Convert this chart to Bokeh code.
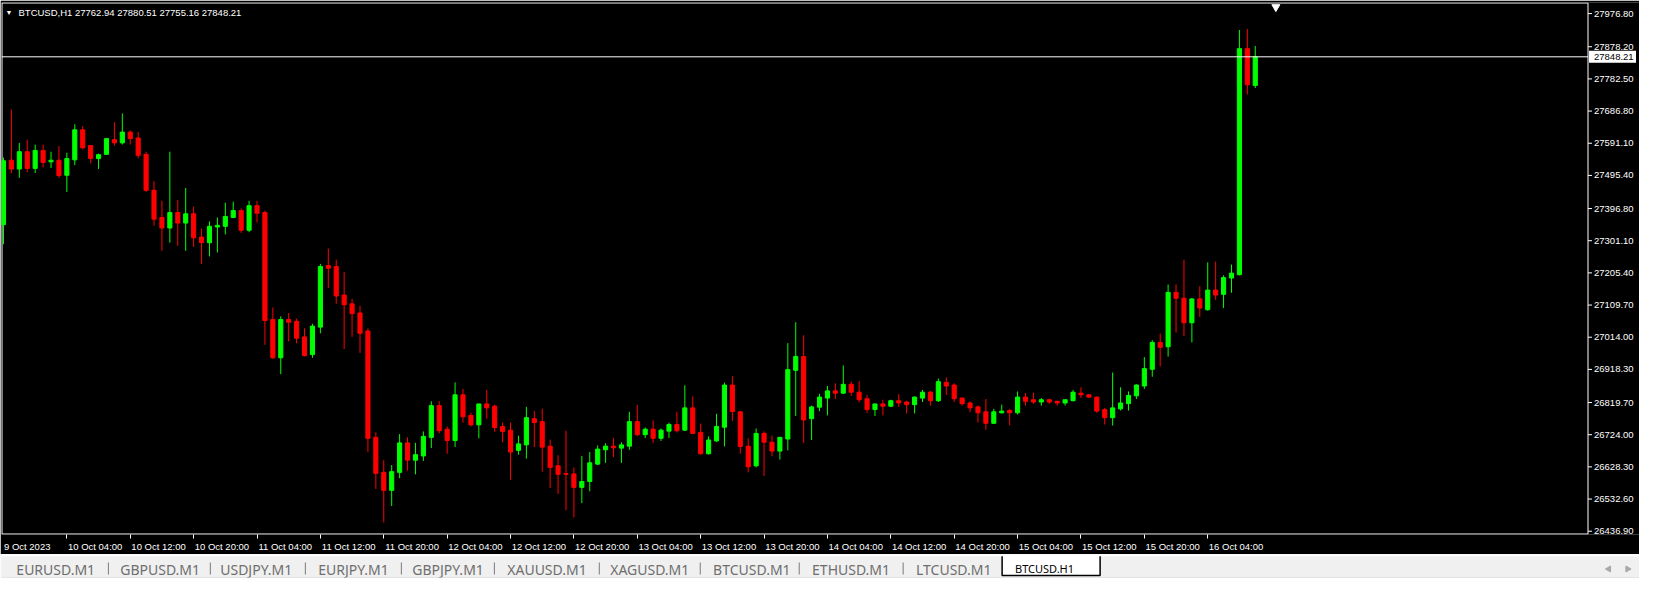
from bokeh.plotting import figure
from bokeh.models import (Range1d, FixedTicker, LinearAxis, Span, Label, ColumnDataSource)
from bokeh.layouts import column
from bokeh.core.properties import value
from bokeh.embed import file_html
from bokeh.resources import INLINE

# ---------------- data (BTCUSD H1, 9 Oct 20:00 .. 16 Oct 10:00) ----------------
symbol = "BTCUSD,H1"
opens = [27349.0, 27540.5, 27514.2, 27565.9, 27516.3, 27569.7, 27535.8, 27540.5, 27495.8, 27541.7,
         27631.0, 27584.3, 27545.5, 27558.0, 27601.8, 27592.2, 27624.3, 27606.8, 27558.0, 27451.2,
         27370.3, 27339.0, 27384.9, 27353.6, 27381.1, 27311.9, 27295.2, 27342.0, 27344.0, 27370.3,
         27390.7, 27332.3, 27405.3, 27384.9, 27066.6, 26952.7, 27066.6, 27061.6, 27014.9, 26962.4,
         27044.1, 27227.2, 27224.3, 27139.6, 27113.3, 27086.2, 27032.4, 26716.2, 26612.0, 26558.5,
         26612.0, 26699.6, 26648.2, 26660.7, 26716.2, 26810.5, 26740.4, 26706.6, 26842.6, 26781.3,
         26753.3, 26815.5, 26808.8, 26748.3, 26737.5, 26677.4, 26693.7, 26771.7, 26762.9, 26689.9,
         26631.5, 26608.2, 26607.3, 26567.3, 26584.8, 26636.5, 26679.1, 26689.9, 26684.1, 26689.9,
         26762.9, 26724.1, 26740.4, 26713.3, 26734.6, 26754.2, 26737.5, 26803.8, 26730.8, 26667.4,
         26705.4, 26746.3, 26871.8, 26792.1, 26689.9, 26631.5, 26727.9, 26701.6, 26675.3, 26711.2,
         26915.6, 26956.5, 26771.7, 26805.8, 26833.0, 26854.3, 26847.6, 26873.9, 26850.5, 26831.0,
         26798.8, 26815.5, 26808.8, 26825.1, 26821.3, 26813.4, 26833.0, 26850.5, 26825.1, 26879.7,
         26871.8, 26833.0, 26818.4, 26806.7, 26792.1, 26758.0, 26789.2, 26795.9, 26789.2, 26835.9,
         26828.0, 26821.3, 26828.0, 26823.4, 26818.4, 26825.1, 26847.6, 26842.6, 26835.9, 26798.8,
         26774.6, 26800.9, 26816.4, 26839.7, 26868.9, 26918.6, 26998.6, 26985.7, 27147.5, 27130.0,
         27057.0, 27127.9, 27095.8, 27154.2, 27141.6, 27190.1, 27200.0, 27872.5, 27762.94]
highs = [27548.4, 27691.5, 27592.2, 27601.8, 27587.2, 27587.2, 27565.9, 27582.6, 27563.0, 27647.7,
         27641.8, 27586.0, 27560.1, 27606.8, 27653.5, 27679.8, 27629.3, 27624.3, 27565.9, 27478.3,
         27419.9, 27565.9, 27422.0, 27457.9, 27402.4, 27337.3, 27358.6, 27370.3, 27414.1, 27417.0,
         27397.4, 27419.9, 27419.9, 27390.7, 27102.5, 27076.2, 27086.2, 27069.5, 27040.3, 27054.0,
         27232.2, 27277.7, 27244.7, 27207.6, 27127.9, 27107.5, 27040.3, 26730.8, 26648.2, 26633.6,
         26725.8, 26716.2, 26699.6, 26733.7, 26823.4, 26823.4, 26748.3, 26879.7, 26860.2, 26789.2,
         26815.5, 26857.2, 26813.4, 26760.0, 26760.0, 26721.2, 26806.7, 26794.2, 26800.9, 26709.5,
         26662.8, 26735.8, 26626.6, 26660.7, 26672.4, 26692.0, 26698.7, 26714.2, 26701.6, 26792.1,
         26812.6, 26745.4, 26766.7, 26742.5, 26760.0, 26792.1, 26871.0, 26838.0, 26757.1, 26719.1,
         26786.3, 26878.8, 26898.1, 26794.0, 26713.3, 26742.5, 26733.7, 26721.2, 26716.2, 26996.5,
         27058.7, 27019.9, 26810.5, 26845.6, 26868.9, 26876.8, 26930.2, 26881.8, 26883.5, 26842.6,
         26815.5, 26828.0, 26828.0, 26844.7, 26825.1, 26838.0, 26857.2, 26854.3, 26891.4, 26894.3,
         26876.8, 26835.0, 26823.4, 26810.5, 26830.1, 26800.9, 26813.4, 26800.9, 26852.6, 26847.6,
         26849.6, 26833.0, 26831.0, 26825.0, 26828.0, 26857.2, 26865.1, 26845.6, 26838.0, 26803.8,
         26908.9, 26865.1, 26852.6, 26873.9, 26954.8, 27005.3, 27024.8, 27170.8, 27170.8, 27244.7,
         27130.0, 27165.9, 27236.8, 27238.9, 27198.0, 27230.1, 27928.0, 27930.9, 27880.51]
lows = [27290.6, 27501.7, 27488.0, 27504.6, 27502.6, 27519.2, 27517.2, 27488.0, 27446.2, 27525.9,
        27572.6, 27531.8, 27514.2, 27556.3, 27584.3, 27587.2, 27587.2, 27546.4, 27446.2, 27346.0,
        27271.0, 27295.2, 27285.6, 27271.0, 27282.7, 27232.2, 27254.4, 27266.0, 27319.8, 27368.2,
        27324.4, 27326.5, 27355.7, 26991.6, 26950.0, 26904.0, 27001.5, 26995.6, 26956.5, 26952.7,
        27025.7, 27160.9, 27113.3, 26979.0, 27014.9, 26967.3, 26672.4, 26562.3, 26463.0, 26511.8,
        26594.4, 26616.9, 26606.1, 26646.1, 26684.1, 26727.9, 26667.4, 26687.0, 26760.0, 26748.3,
        26713.3, 26771.7, 26732.8, 26701.6, 26589.8, 26664.5, 26652.8, 26687.0, 26614.0, 26565.2,
        26547.7, 26499.2, 26477.7, 26520.6, 26555.6, 26633.6, 26640.3, 26657.8, 26640.3, 26679.1,
        26719.1, 26714.2, 26699.6, 26705.4, 26714.2, 26730.8, 26735.0, 26725.8, 26665.0, 26665.0,
        26703.0, 26689.0, 26765.0, 26667.4, 26612.0, 26626.6, 26601.4, 26659.8, 26649.9, 26677.4,
        26779.6, 26699.6, 26708.3, 26794.2, 26781.3, 26830.1, 26845.0, 26839.7, 26820.4, 26789.2,
        26779.6, 26781.3, 26806.0, 26806.7, 26787.2, 26787.2, 26821.3, 26810.5, 26821.3, 26842.6,
        26821.3, 26810.5, 26791.2, 26760.0, 26738.7, 26756.0, 26787.0, 26752.1, 26784.2, 26810.5,
        26815.5, 26810.5, 26815.5, 26810.5, 26810.5, 26823.0, 26833.0, 26833.0, 26789.2, 26754.2,
        26751.2, 26795.9, 26795.9, 26830.1, 26860.2, 26896.4, 26927.3, 26956.5, 27027.8, 27017.8,
        26998.6, 27074.5, 27092.9, 27125.0, 27100.8, 27146.3, 27198.0, 27736.2, 27755.16]
closes = [27538.8, 27514.2, 27565.9, 27516.3, 27569.7, 27533.8, 27540.5, 27495.0, 27545.5, 27631.0,
          27577.6, 27545.5, 27557.2, 27604.8, 27592.2, 27624.3, 27604.8, 27555.1, 27451.2, 27365.3,
          27339.0, 27384.9, 27353.6, 27381.1, 27309.8, 27295.2, 27344.0, 27346.9, 27373.2, 27390.7,
          27332.3, 27405.3, 27382.8, 27063.7, 26952.7, 27066.6, 27058.7, 27011.1, 26959.4, 27047.0,
          27224.3, 27219.3, 27136.7, 27110.4, 27084.1, 27025.7, 26713.3, 26609.0, 26558.5, 26614.0,
          26699.6, 26648.2, 26664.5, 26719.1, 26810.5, 26735.8, 26706.6, 26842.6, 26777.5, 26753.3,
          26815.5, 26803.8, 26745.4, 26733.7, 26672.4, 26696.6, 26774.6, 26760.0, 26687.0, 26626.6,
          26606.1, 26606.1, 26567.3, 26584.8, 26640.3, 26681.2, 26689.9, 26685.0, 26693.7, 26762.9,
          26724.1, 26740.4, 26713.3, 26737.5, 26754.2, 26735.8, 26803.8, 26727.9, 26667.4, 26708.3,
          26748.3, 26871.8, 26793.0, 26689.0, 26628.6, 26727.9, 26701.6, 26675.3, 26716.2, 26917.7,
          26956.5, 26767.9, 26806.7, 26835.9, 26854.3, 26847.6, 26873.9, 26850.5, 26828.0, 26798.8,
          26815.5, 26808.8, 26825.1, 26818.4, 26813.4, 26835.9, 26850.5, 26825.1, 26881.8, 26868.9,
          26831.0, 26816.4, 26803.8, 26789.2, 26758.0, 26792.1, 26794.2, 26789.2, 26835.9, 26823.4,
          26821.3, 26828.0, 26821.3, 26818.4, 26828.0, 26850.5, 26842.6, 26835.9, 26794.2, 26774.6,
          26803.8, 26818.4, 26840.9, 26871.8, 26920.6, 26998.6, 26984.0, 27147.5, 27130.0, 27057.0,
          27127.9, 27100.8, 27154.2, 27139.6, 27191.3, 27204.7, 27872.5, 27765.4, 27848.21]

price_ticks = [27976.80, 27878.20, 27782.50, 27686.80, 27591.10, 27495.40, 27396.80, 27301.10,
               27205.40, 27109.70, 27014.00, 26918.30, 26819.70, 26724.00, 26628.30, 26532.60,
               26436.90]
time_labels = ["9 Oct 2023", "10 Oct 04:00", "10 Oct 12:00", "10 Oct 20:00", "11 Oct 04:00",
               "11 Oct 12:00", "11 Oct 20:00", "12 Oct 04:00", "12 Oct 12:00", "12 Oct 20:00",
               "13 Oct 04:00", "13 Oct 12:00", "13 Oct 20:00", "14 Oct 04:00", "14 Oct 12:00",
               "14 Oct 20:00", "15 Oct 04:00", "15 Oct 12:00", "15 Oct 20:00", "16 Oct 04:00"]
time_label_bars = [0, 8, 16, 24, 32, 40, 48, 56, 64, 72, 80, 88, 96, 104, 112, 120, 128, 136, 144, 152]

tab_names = ["EURUSD.M1", "GBPUSD.M1", "USDJPY.M1", "EURJPY.M1", "GBPJPY.M1", "XAUUSD.M1",
             "XAGUSD.M1", "BTCUSD.M1", "ETHUSD.M1", "LTCUSD.M1"]
active_tab = "BTCUSD.H1"

# ---------------- layout constants ----------------
W = 1639
MAIN_H = 554
TAB_H = 24
TOP_B, BOT_B = 2, 20
FONT = "Liberation Sans"
FS = "9.5px"
UP, DOWN = "#00ff00", "#ff0000"

frame_w = W - 1
frame_h = MAIN_H - TOP_B - BOT_B
ppu = 8.0 * W / 1655.0                      # pixels per bar
X0 = -0.25                                  # left edge of chart window (bars)
X1 = 200.0                                  # right border of chart window (bars)
XE = X0 + frame_w / ppu                     # right edge of canvas (price scale area)
Y0, Y1 = 26427.1, 28009.8
ppp = frame_h / (Y1 - Y0)                   # pixels per price unit
dx = 1.0 / ppu
dy = 1.0 / ppp

idx = list(range(len(opens)))
colors = [UP if c >= o else DOWN for o, c in zip(opens, closes)]
src = ColumnDataSource(dict(
    x=idx, o=opens, h=highs, l=lows, c=closes,
    top=[max(o, c) for o, c in zip(opens, closes)],
    bot=[min(o, c) for o, c in zip(opens, closes)],
    color=colors))

p = figure(width=W, height=MAIN_H, x_range=Range1d(X0, XE), y_range=Range1d(Y0, Y1),
           output_backend="svg", toolbar_location=None,
           x_axis_location=None, y_axis_location=None,
           min_border_left=1, min_border_right=0, min_border_top=TOP_B, min_border_bottom=BOT_B,
           background_fill_color="black", border_fill_color="black", outline_line_color=None)
p.grid.visible = False

# chart window border
yt, yb = Y1 - 0.5 * dy, Y0 + 0.5 * dy
p.line(x=[X0 + 0.5 * dx, X1, X1], y=[yt, yt, yb], line_color="white", line_width=1)
p.line(x=[X0 + 0.5 * dx, X0 + 0.5 * dx, X1], y=[yt, yb, yb], line_color="white", line_width=1)

# candles
p.segment(x0="x", y0="l", x1="x", y1="h", source=src, line_color="color", line_width=1)
p.vbar(x="x", bottom="bot", top="top", width=0.52, source=src,
       fill_color="color", line_color="color", line_width=1)

# bid line
p.segment(x0=[X0], x1=[X1], y0=[closes[-1]], y1=[closes[-1]], line_color="white", line_width=1)

# price scale on the right
p.segment(x0=[X1] * len(price_ticks), x1=[X1 + 4 * dx] * len(price_ticks),
          y0=price_ticks, y1=price_ticks, line_color="white", line_width=1)
p.text(x=[X1 + 6 * dx] * len(price_ticks), y=price_ticks, text=[f"{v:.2f}" for v in price_ticks],
       text_color="white", text_font=value(FONT), text_font_size=FS,
       text_align="left", text_baseline="middle")
# bid price box
p.quad(left=[X1 + 1 * dx], right=[X1 + 48 * dx], bottom=[closes[-1] - 6 * dy],
       top=[closes[-1] + 6 * dy], fill_color="white", line_color=None)
p.text(x=[X1 + 6 * dx], y=[closes[-1]], text=[f"{closes[-1]:.2f}"], text_color="black",
       text_font=value(FONT), text_font_size=FS, text_align="left", text_baseline="middle")

# bottom time axis: tick marks as minor ticks, labels left-aligned to the tick
label_centers = [round(b + (4.55 * len(s) / 2 + 1) / ppu, 3) for b, s in zip(time_label_bars, time_labels)]
xax = LinearAxis(ticker=FixedTicker(ticks=label_centers, minor_ticks=time_label_bars[1:]),
                 major_label_overrides={c: s for c, s in zip(label_centers, time_labels)})
xax.axis_line_color = None
xax.major_tick_line_color = None
xax.major_tick_out = 0
xax.major_tick_in = 0
xax.minor_tick_line_color = "white"
xax.minor_tick_out = 4
xax.minor_tick_in = 0
xax.major_label_standoff = 2
xax.major_label_text_color = "white"
xax.major_label_text_font = FONT
xax.major_label_text_font_size = FS
p.add_layout(xax, "below")

# header text
p.add_layout(Label(x=X0, y=Y1, x_offset=4, y_offset=-6, text="\u25bc", text_color="white",
                   text_font=FONT, text_font_size="7px", text_baseline="top"))
p.add_layout(Label(x=X0, y=Y1, x_offset=17, y_offset=-4,
                   text=f"{symbol}  {opens[-1]:.2f} {highs[-1]:.2f} {lows[-1]:.2f} {closes[-1]:.2f}",
                   text_color="white", text_font=FONT, text_font_size=FS, text_baseline="top"))

# chart shift marker
shift_idx = len(opens) + 1.6
p.scatter(x=[shift_idx], y=[Y1 - 4.5 * dy], marker="inverted_triangle", size=8,
          fill_color="white", line_color="white")

# ---------------- tab bar ----------------
tab_x = [15, 120, 221, 320, 415, 511, 615, 719, 819, 924]
sep_x = [108, 211, 307, 404, 498, 604, 706, 806, 911]
t = figure(width=W, height=TAB_H, x_range=Range1d(0, 1655), y_range=Range1d(0, TAB_H),
           output_backend="svg", toolbar_location=None,
           x_axis_location=None, y_axis_location=None, min_border=0,
           background_fill_color="#f0f0f0", border_fill_color="#f0f0f0",
           outline_line_color=None)
t.grid.visible = False
t.add_layout(Span(location=TAB_H - 0.8, dimension="width", line_color="white", line_width=2))
t.add_layout(Span(location=0.5, dimension="width", line_color="#d8d8d8", line_width=1))
t.segment(x0=sep_x, y0=[4] * len(sep_x), x1=sep_x, y1=[16] * len(sep_x),
          line_color="#7a7a7a", line_width=1)
t.text(x=tab_x, y=[9.5] * len(tab_x), text=tab_names, text_font=value("Noto Sans"),
       text_font_size="14px", text_color="#6e6e6e", text_baseline="middle", text_align="left")
t.quad(left=[1011], right=[1110], bottom=[3], top=[TAB_H - 1], fill_color="white", line_color=None)
t.multi_line(xs=[[1011, 1011, 1110, 1110]], ys=[[TAB_H - 1, 3, 3, TAB_H - 1]],
             line_color="black", line_width=1.5)
t.text(x=[1024], y=[10.5], text=[active_tab], text_font=value("Noto Sans"),
       text_font_size="11px", text_color="black", text_baseline="middle", text_align="left")
t.scatter(x=[1624, 1643], y=[9.5, 9.5], marker="triangle", angle=[1.5708, -1.5708],
          size=6, fill_color="#a8a8a8", line_color="#a8a8a8")

layout = column(p, t, spacing=0)
open("out.html", "w").write(file_html(layout, INLINE))
